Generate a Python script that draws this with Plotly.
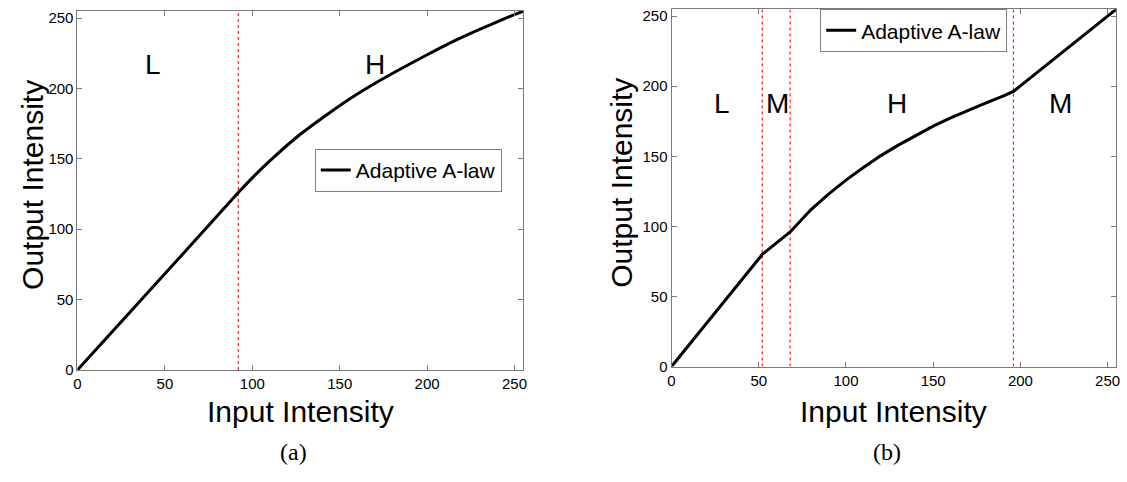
import plotly.graph_objects as go

# Input/output intensity pairs of the adaptive A-law curve, panel (a)
x_left = [0, 30, 60, 92, 100, 110, 125, 140, 155, 170, 185, 200, 215, 230, 245, 255]
y_left = [0, 41, 82, 126, 136.5, 148.5, 165, 179, 192, 203.5, 214, 224, 233.5, 242, 250, 255]
left_breaks = [92]

# Panel (b): piecewise curve with L / M / H / M segments
x_right = [0, 52, 68, 75, 80, 90, 100, 110, 120, 130, 140, 150, 160, 170, 180, 190, 196, 255]
y_right = [0, 80, 96, 105.5, 112, 123, 133, 142, 150.5, 158, 165, 171.5, 177.5, 183, 188, 193, 196.3, 255]
right_breaks = [52, 68, 196]

axis_ticks = [0, 50, 100, 150, 200, 250]
series_name = "Adaptive A-law"
x_title = "Input Intensity"
y_title = "Output Intensity"
captions = ["(a)", "(b)"]

W, H = 1127, 482
SANS = "Arial, Liberation Sans, sans-serif"
SERIF = "Times New Roman, Liberation Serif, serif"
AX_GRAY = "#7a7a7a"
BREAK_RED = "#ff1a1a"


def px_x(p):
    return p / W


def px_y(p):
    return 1 - p / H


fig = go.Figure()

# dotted red region boundaries (drawn first, beneath the curves)
for xb in left_breaks:
    fig.add_trace(go.Scatter(x=[xb, xb], y=[0, 255], mode="lines", showlegend=False,
                             line=dict(color=BREAK_RED, width=1.2, dash="dot"),
                             xaxis="x", yaxis="y", hoverinfo="skip"))
for xb in right_breaks:
    fig.add_trace(go.Scatter(x=[xb, xb], y=[0, 255], mode="lines", showlegend=False,
                             line=dict(color=BREAK_RED, width=1.2, dash="dot"),
                             xaxis="x2", yaxis="y2", hoverinfo="skip"))

# main curves
fig.add_trace(go.Scatter(x=x_left, y=y_left, mode="lines", name=series_name,
                         line=dict(color="black", width=3, shape="spline", smoothing=0.6),
                         xaxis="x", yaxis="y", legend="legend"))
fig.add_trace(go.Scatter(x=x_right, y=y_right, mode="lines", name=series_name,
                         line=dict(color="black", width=3),
                         xaxis="x2", yaxis="y2", legend="legend2"))

axis_common = dict(
    range=[0, 255], tickvals=axis_ticks, ticks="inside", ticklen=5, tickcolor=AX_GRAY,
    showline=True, linecolor=AX_GRAY, linewidth=1, mirror="allticks",
    showgrid=False, zeroline=False, fixedrange=True,
    tickfont=dict(family=SANS, size=15, color="black"),
)

legend_common = dict(xanchor="left", yanchor="top", bgcolor="white",
                     bordercolor="#808080", borderwidth=1, tracegroupgap=0,
                     font=dict(family=SANS, size=21, color="black"))

fig.update_layout(
    width=W, height=H,
    margin=dict(l=0, r=0, t=0, b=0),
    paper_bgcolor="white", plot_bgcolor="white",
    xaxis=dict(domain=[px_x(74), px_x(523)], anchor="y", **axis_common),
    yaxis=dict(domain=[px_y(375.7), px_y(9.3)], anchor="x", **axis_common),
    xaxis2=dict(domain=[px_x(672.3), px_x(1120.3)], anchor="y2", **axis_common),
    yaxis2=dict(domain=[px_y(372.3), px_y(7.3)], anchor="x2", **axis_common),
    legend=dict(x=px_x(313), y=px_y(150), **legend_common),
    legend2=dict(x=px_x(822), y=px_y(7.3), **legend_common),
    showlegend=True,
)

annotations = []
# region letters
region_font = dict(family=SANS, size=28, color="black")
for txt, xv, yv in [("L", 43, 217), ("H", 170, 217)]:
    annotations.append(dict(x=xv, y=yv, xref="x", yref="y", text=txt, showarrow=False,
                            font=region_font))
for txt, xv, yv in [("L", 29, 188), ("M", 61, 188), ("H", 129, 188), ("M", 223, 188)]:
    annotations.append(dict(x=xv, y=yv, xref="x2", yref="y2", text=txt, showarrow=False,
                            font=region_font))

# axis titles
title_font = dict(family=SANS, size=30, color="black")
for cx in (299, 896):
    annotations.append(dict(x=px_x(cx), y=px_y(418), xref="paper", yref="paper",
                            text=x_title, showarrow=False, font=title_font,
                            xanchor="center", yanchor="middle"))
for cx, cy in ((28, 187), (622, 185)):
    annotations.append(dict(x=px_x(cx), y=px_y(cy), xref="paper", yref="paper",
                            text=y_title, showarrow=False, font=title_font, textangle=-90,
                            xanchor="center", yanchor="middle"))

# panel captions
for cx, cap in zip((292, 889), captions):
    annotations.append(dict(x=px_x(cx), y=px_y(460), xref="paper", yref="paper",
                            text=cap, showarrow=False,
                            font=dict(family=SERIF, size=24, color="black"),
                            xanchor="center", yanchor="middle"))

fig.update_layout(annotations=annotations)

fig.write_html("out.html")
